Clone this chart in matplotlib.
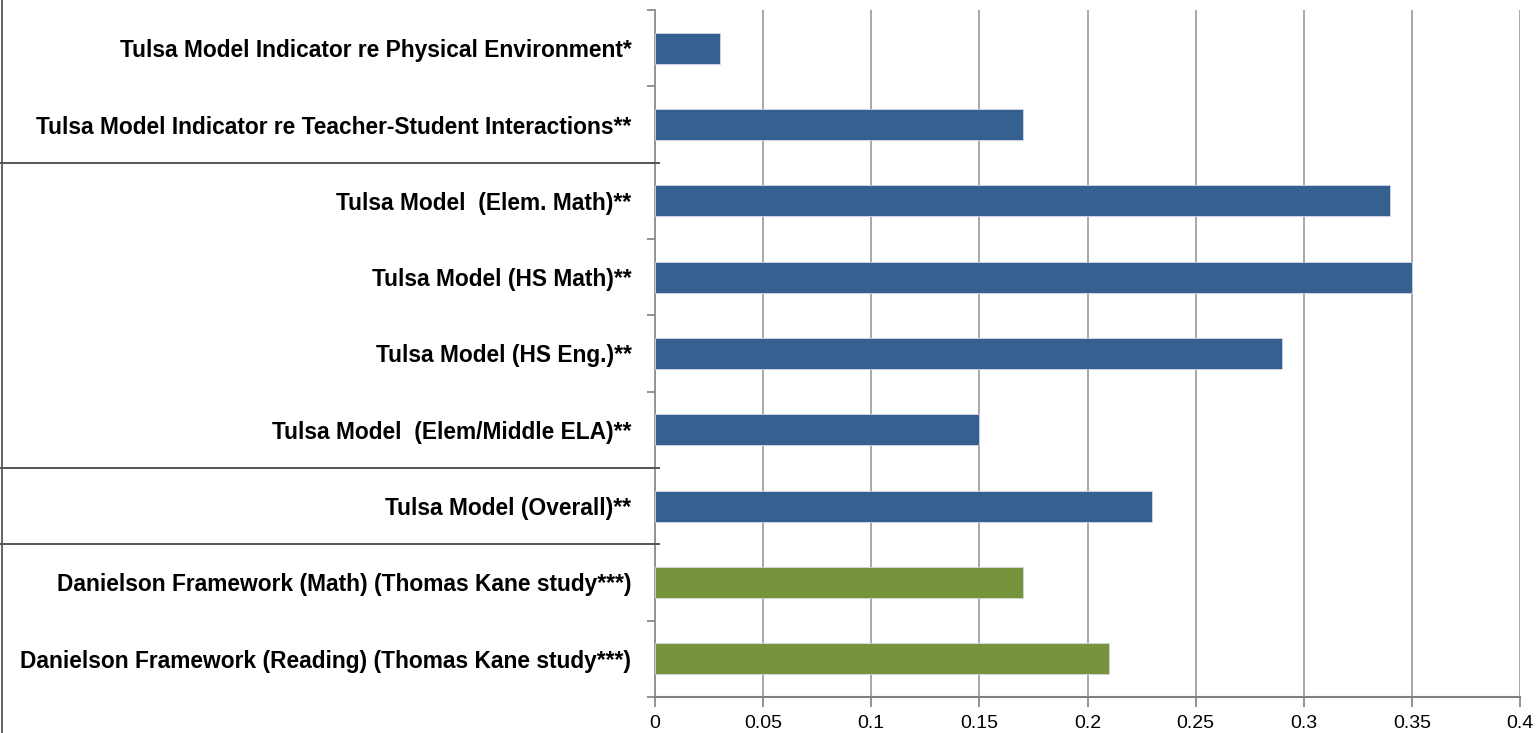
import matplotlib
matplotlib.use("Agg")
import matplotlib.pyplot as plt
import matplotlib.transforms as mtransforms
import numpy as np

categories = [
    "Tulsa Model Indicator re Physical Environment*",
    "Tulsa Model Indicator re Teacher-Student Interactions**",
    "Tulsa Model  (Elem. Math)**",
    "Tulsa Model (HS Math)**",
    "Tulsa Model (HS Eng.)**",
    "Tulsa Model  (Elem/Middle ELA)**",
    "Tulsa Model (Overall)**",
    "Danielson Framework (Math) (Thomas Kane study***)",
    "Danielson Framework (Reading) (Thomas Kane study***)",
]
values = [0.03, 0.17, 0.34, 0.35, 0.29, 0.15, 0.23, 0.17, 0.21]
groups = ["tulsa"] * 7 + ["danielson"] * 2
xticks = [0, 0.05, 0.1, 0.15, 0.2, 0.25, 0.3, 0.35, 0.4]
xticklabels = ["0", "0.05", "0.1", "0.15", "0.2", "0.25", "0.3", "0.35", "0.4"]
separators_after = [1, 5, 6]

colors = {"tulsa": "#36608F", "danielson": "#77933C"}
font = ["Liberation Sans", "DejaVu Sans"]

W, H = 1537, 733
fig = plt.figure(figsize=(W / 100, H / 100), dpi=100)
ax = fig.add_axes([655 / W, 1 - 697 / H, (1520 - 655) / W, (697 - 10) / H])

y = np.arange(len(categories))
ax.barh(y, values, height=0.41, color=[colors[g] for g in groups],
        edgecolor="#d0d8e8", linewidth=0.6, zorder=3)

ax.set_xlim(0, 0.4)
ax.set_ylim(len(categories) - 0.5, -0.5)

ax.set_xticks(xticks)
ax.set_xticklabels(xticklabels, fontfamily=font, fontsize=14, color="black")
ax.set_yticks(y)
ax.set_yticklabels(categories, fontfamily=font, fontsize=16.4, fontweight="bold")
ax.set_yticks(np.arange(-0.5, len(categories), 1), minor=True)
ax.tick_params(axis="y", which="major", length=0, pad=17)
ax.tick_params(axis="y", which="minor", length=6, width=1.2, color="#808080", direction="out")
ax.tick_params(axis="x", which="major", length=7, width=1.2, color="#808080", direction="out", pad=6)

ax.grid(axis="x", color="#A0A0A0", linewidth=1.3, zorder=0)
ax.set_axisbelow(True)
for s in ["top", "right"]:
    ax.spines[s].set_visible(False)
ax.spines["left"].set_color("#909090")
ax.spines["left"].set_linewidth(1.3)
ax.spines["bottom"].set_color("#808080")
ax.spines["bottom"].set_linewidth(1.5)

trans = mtransforms.blended_transform_factory(fig.transFigure, ax.transData)
for s in separators_after:
    ax.plot([0, 659 / W], [s + 0.5, s + 0.5], transform=trans, color="#555555",
            linewidth=1.4, clip_on=False, zorder=5)
fig.add_artist(plt.Line2D([1.5 / W, 1.5 / W], [0, 1], transform=fig.transFigure,
                          color="#555555", linewidth=1.3))

fig.savefig("out.png", dpi=100)
